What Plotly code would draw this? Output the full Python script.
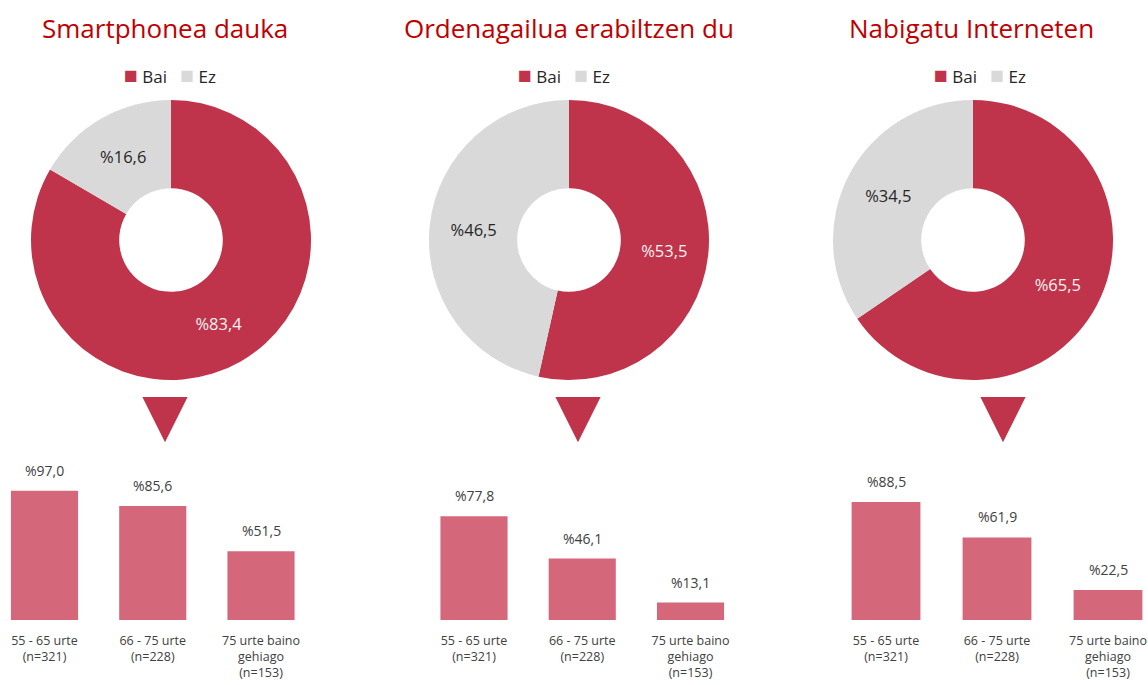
import plotly.graph_objects as go

# ===========================
# DATA
# ===========================

titles = ["Smartphonea dauka", "Ordenagailua erabiltzen du", "Nabigatu Interneten"]
pie_labels = ["Bai", "Ez"]
bai_share = [83.4, 53.5, 65.5]
ez_share = [16.6, 46.5, 34.5]

age_groups = ["55 - 65 urte<br>(n=321)", "66 - 75 urte<br>(n=228)", "75 urte baino<br>gehiago<br>(n=153)"]
by_age = [
    [97.0, 85.6, 51.5],
    [77.8, 46.1, 13.1],
    [88.5, 61.9, 22.5],
]

# ===========================
# STYLE
# ===========================

W, H = 1148, 685
RED = "#C0344B"
GREY = "#D9D9D9"
BAR = "#D5677A"
TITLE_RED = "#C00000"
TXT = "#404040"
FONT = "Open Sans"

# pixel layout of the three panels
pie_centers = [(171, 240), (569, 240), (973, 240)]
pie_r = 140
title_x = [165, 569, 971]
legend_x = [170, 564, 980]
tri_x = [165, 578, 1003]
# bar panels: (domain left px, domain right px, first bar center px, bar spacing px)
bar_panels = [(0, 330, 44.5, 108.25), (400, 750, 474, 108.25), (800, 1148, 886, 111)]
bar_base, bar_top = 620, 460
px_per_unit = 1.333


def px(x):
    return x / W


def py(y):
    return (H - y) / H


def pct(v):
    return "%" + f"{v:.1f}".replace(".", ",")


fig = go.Figure()
layout = dict(
    width=W, height=H,
    margin=dict(l=0, r=0, t=0, b=0),
    paper_bgcolor="white", plot_bgcolor="white",
    font=dict(family=FONT, color=TXT),
    showlegend=False,
    annotations=[], shapes=[],
)

for i in range(3):
    cx, cy = pie_centers[i]
    fig.add_trace(go.Pie(
        labels=pie_labels,
        values=[bai_share[i], ez_share[i]],
        text=[pct(bai_share[i]), pct(ez_share[i])],
        textinfo="text",
        textposition="inside",
        insidetextorientation="horizontal",
        textfont=dict(size=16.5, color=["#F2F2F2", "#262626"], family=FONT),
        marker=dict(colors=[RED, GREY], line=dict(width=0)),
        hole=0.37,
        sort=False,
        direction="clockwise",
        rotation=0,
        domain=dict(x=[px(cx - pie_r), px(cx + pie_r)], y=[py(cy + pie_r), py(cy - pie_r)]),
        hoverinfo="label+percent",
    ))

    # legend for each donut
    sq = "<span style='font-size:23px;color:{}'>■</span>"
    layout["annotations"].append(dict(
        text=(f"{sq.format(RED)} {pie_labels[0]}"
              f"   {sq.format(GREY)} {pie_labels[1]}"),
        x=px(legend_x[i]), y=py(74), xref="paper", yref="paper",
        xanchor="center", yanchor="middle", showarrow=False,
        font=dict(size=17, color="#262626", family=FONT),
    ))

    # bar chart under each donut
    left, right, c0, step = bar_panels[i]
    r0 = -(c0 - left) / step
    r1 = r0 + (right - left) / step
    sfx = "" if i == 0 else str(i + 1)
    fig.add_trace(go.Bar(
        x=age_groups, y=by_age[i],
        xaxis="x" + sfx, yaxis="y" + sfx,
        marker=dict(color=BAR, line=dict(width=0)),
        width=0.62,
        showlegend=False,
        hovertemplate="%{y}<extra></extra>",
    ))
    for cat, v in zip(age_groups, by_age[i]):
        layout["annotations"].append(dict(
            text=pct(v), x=cat, y=v, xref="x" + sfx, yref="y" + sfx,
            xanchor="center", yanchor="bottom", yshift=9, showarrow=False,
            font=dict(size=14, color=TXT, family=FONT),
        ))
    layout["xaxis" + sfx] = dict(
        domain=[px(left), px(right)], range=[r0, r1],
        anchor="y" + sfx,
        showgrid=False, showline=False, zeroline=False, ticks="",
        tickfont=dict(size=12.5, color=TXT, family=FONT),
        ticklabelstandoff=11, fixedrange=True,
    )
    layout["yaxis" + sfx] = dict(
        domain=[py(bar_base), py(bar_top)],
        range=[0, (bar_base - bar_top) / px_per_unit],
        anchor="x" + sfx,
        visible=False, fixedrange=True,
    )

    # title
    layout["annotations"].append(dict(
        text=titles[i], x=px(title_x[i]), y=py(28), xref="paper", yref="paper",
        xanchor="center", yanchor="middle", showarrow=False,
        font=dict(size=26, color=TITLE_RED, family=FONT),
    ))
    # pointer triangle between donut and bars
    tx = tri_x[i]
    layout["shapes"].append(dict(
        type="path", xref="paper", yref="paper",
        path=f"M {px(tx - 21)} {py(398)} L {px(tx + 21)} {py(398)} L {px(tx)} {py(440)} Z",
        fillcolor=RED, line=dict(color=RED, width=2),
    ))

fig.update_layout(**layout)
fig.write_html("out.html", config={"displayModeBar": False},
               post_script="document.body.style.margin='0';")
